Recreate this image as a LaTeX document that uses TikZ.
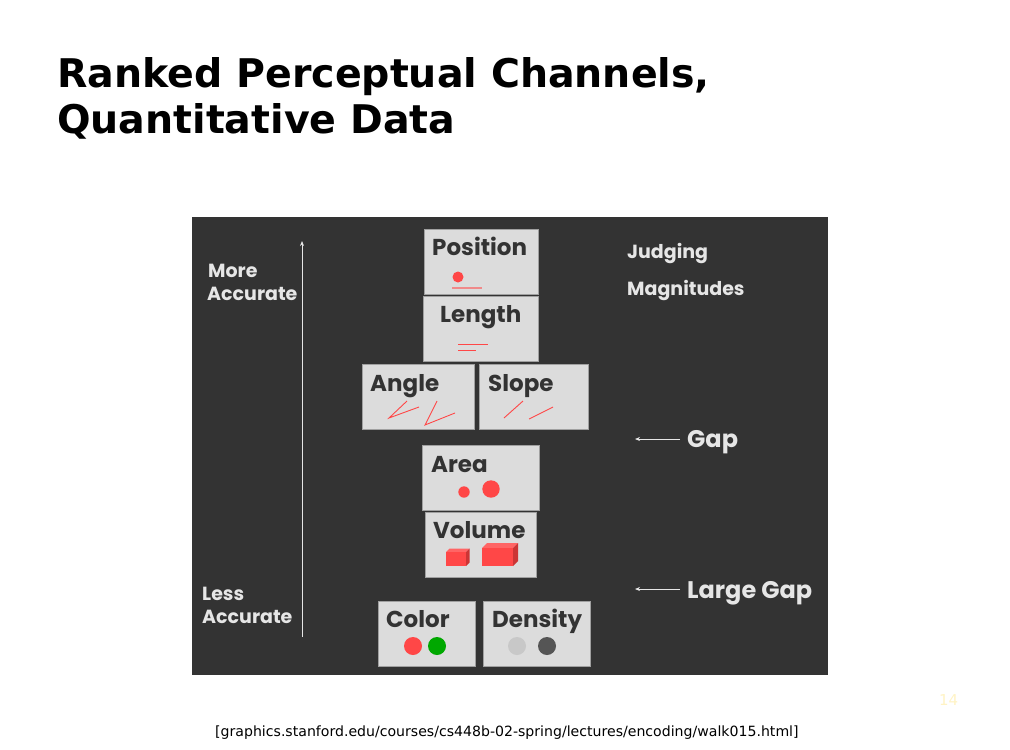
\documentclass[tikz,border=0pt]{standalone}
\usepackage{fontspec}
\setmainfont{DejaVu Sans}
\newfontfamily\titlefont{DejaVu Sans}
\newfontfamily\fut{Poppins}
\newfontfamily\capfont{DejaVu Sans}
\usetikzlibrary{arrows.meta}
\definecolor{panel}{HTML}{333333}
\definecolor{boxfill}{HTML}{DCDCDC}
\definecolor{boxline}{HTML}{A0A0A0}
\definecolor{lbl}{HTML}{333333}
\definecolor{lite}{HTML}{E6E6E6}
\definecolor{redd}{HTML}{FF4747}
\definecolor{pinkl}{HTML}{F08A8A}
\definecolor{redside}{HTML}{CC3535}
\definecolor{redtop}{HTML}{FF6565}
\definecolor{greend}{HTML}{00A800}
\definecolor{lgray}{HTML}{C8C8C8}
\definecolor{dgray}{HTML}{555555}
\definecolor{pagenum}{HTML}{FFF3C4}
\tikzset{
  chbox/.style={draw=boxline, line width=0.8pt, fill=boxfill, inner sep=0pt},
  chlabel/.style={anchor=base west, inner sep=0pt, text=lbl, font=\fut\bfseries\fontsize{23}{23}\selectfont},
  sidelabel/.style={anchor=base west, inner sep=0pt, text=lite, font=\fut\bfseries\fontsize{19}{19}\selectfont},
  gaplabel/.style={sidelabel, font=\fut\bfseries\fontsize{24}{24}\selectfont},
  titletext/.style={anchor=base west, inner sep=0pt, font=\titlefont\bfseries\fontsize{39.5}{39.5}\selectfont},
  arr/.style={draw=lite, line width=1pt, -{Stealth[length=5pt,width=4pt]}},
  thinred/.style={draw=redd, line width=0.9pt},
}
\begin{document}
\begin{tikzpicture}[x=1pt,y=-1pt]
\useasboundingbox (0,0) rectangle (1010,750);
% title
\node[titletext] (t1) at (57,87) {Ranked Perceptual Channels,};
\node[titletext] (t2) at (57,133) {Quantitative Data};
% panel
\fill[panel] (192,217) rectangle (828,675);
% boxes
\draw[chbox] (424,229) rectangle (538,294);
\draw[chbox] (423,296) rectangle (538,361);
\draw[chbox] (362,364) rectangle (474,429);
\draw[chbox] (479,364) rectangle (588,429);
\draw[chbox] (422,445) rectangle (539,510);
\draw[chbox] (425,512) rectangle (536,577);
\draw[chbox] (378,601) rectangle (475,666);
\draw[chbox] (483,601) rectangle (590,666);
% labels
\node[chlabel] (lpos) at (432,255) {Position};
\node[chlabel] (llen) at (440,322) {Length};
\node[chlabel] (lang) at (370,391) {Angle};
\node[chlabel] (lslo) at (488,391) {Slope};
\node[chlabel] (lare) at (431,472) {Area};
\node[chlabel] (lvol) at (433,538) {Volume};
\node[chlabel] (lcol) at (386,627) {Color};
\node[chlabel] (lden) at (492,627) {Density};
% position glyph
\fill[redd] (458,277) circle (5.5);
\draw[pinkl, line width=2pt] (452,288) -- (482,288);
% length glyph
\draw[thinred] (458,344) -- (488,344);
\draw[thinred] (458,350) -- (476,350);
% angle glyph
\draw[thinred] (407,401) -- (389,418) -- (419,407);
\draw[thinred] (437,401) -- (425,425) -- (455,413);
% slope glyph
\draw[thinred] (504,418) -- (523,401);
\draw[thinred] (529,419) -- (553,407);
% area glyph
\fill[redd] (464,492) circle (5.7);
\fill[redd] (491,489) circle (8.7);
% volume glyph
\fill[redtop] (446,552) -- (449.5,548.5) -- (469.5,548.5) -- (466,552) -- cycle;
\fill[redside] (466,552) -- (469.5,548.5) -- (469.5,562.5) -- (466,566) -- cycle;
\fill[redd] (446,552) rectangle (466,566);
\fill[redtop] (482,548) -- (487,543) -- (518,543) -- (513,548) -- cycle;
\fill[redside] (513,548) -- (518,543) -- (518,561) -- (513,566) -- cycle;
\fill[redd] (482,548) rectangle (513,566);
% color glyph
\fill[redd] (413,646) circle (9);
\fill[greend] (437,646) circle (9);
% density glyph
\fill[lgray] (517,646) circle (9);
\fill[dgray] (547,646) circle (9);
% side labels
\node[sidelabel] (more) at (208,277) {More};
\node[sidelabel] (acc1) at (207,300) {Accurate};
\node[sidelabel] (less) at (202,600) {Less};
\node[sidelabel] (acc2) at (202,623) {Accurate};
\coordinate (abot) at (302,637);
\coordinate (atop) at (302,241);
\draw[arr] (abot) -- (atop);
\node[sidelabel] (judg) at (627,258) {Judging};
\node[sidelabel] (magn) at (627,295) {Magnitudes};
\node[gaplabel] (gap) at (687,447) {Gap};
\node[gaplabel] (lgap) at (687,598) {Large Gap};
\coordinate (g1s) at (680,439);
\coordinate (g1e) at (635,439);
\coordinate (g2s) at (680,589);
\coordinate (g2e) at (635,589);
\draw[arr] (g1s) -- (g1e);
\draw[arr] (g2s) -- (g2e);
% page number and caption
\node[anchor=base west, inner sep=0pt, text=pagenum, font=\fontsize{15}{15}\selectfont] (pn) at (939,705) {14};
\node[anchor=base west, inner sep=0pt, font=\capfont\fontsize{14.1}{14.1}\selectfont] (cap) at (215,736) {[graphics.stanford.edu/courses/cs448b-02-spring/lectures/encoding/walk015.html]};
\end{tikzpicture}
\end{document}
